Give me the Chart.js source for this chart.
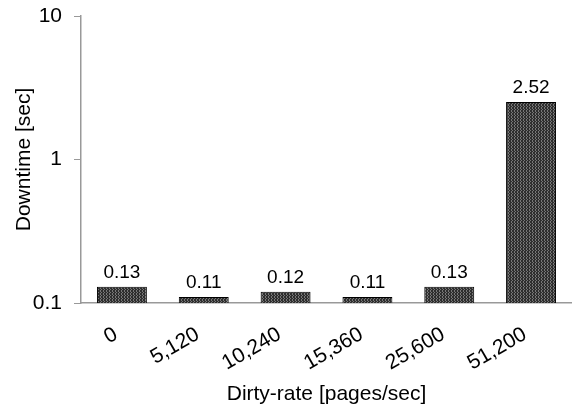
<!DOCTYPE html>
<html>
<head>
<meta charset="utf-8">
<script src="https://cdn.jsdelivr.net/npm/chart.js@4/dist/chart.umd.min.js"></script>
<style>
  html, body { margin: 0; padding: 0; background: #fff; }
  #wrap { width: 572px; height: 407px; }
</style>
</head>
<body>
<div id="wrap"><canvas id="c"></canvas></div>
<script>
// data
const rates = ['0', '5,120', '10,240', '15,360', '25,600', '51,200'];
const downtime = [0.13, 0.11, 0.12, 0.11, 0.13, 2.52];
const yTicks = [0.1, 1, 10];

const FONT = '"Liberation Sans", Arial, sans-serif';

// dark hatch fill like the original bars
function hatch() {
    const p = document.createElement('canvas');
    p.width = 3; p.height = 3;
    const g = p.getContext('2d');
    g.fillStyle = '#2e2e2e';
    g.fillRect(0, 0, 3, 3);
    g.fillStyle = '#777';
    g.fillRect(1, 0, 1, 1);
    g.fillRect(2, 1, 1, 1);
    g.fillRect(1, 2, 1, 1);
    return g.createPattern(p, 'repeat');
}

// value labels above bars
const barLabels = {
    id: 'barLabels',
    afterDatasetsDraw(chart) {
        const ctx = chart.ctx;
        const meta = chart.getDatasetMeta(0);
        ctx.save();
        ctx.font = '19px ' + FONT;
        ctx.fillStyle = '#000';
        ctx.textAlign = 'center';
        ctx.textBaseline = 'alphabetic';
        meta.data.forEach((bar, i) => {
            ctx.fillText(downtime[i].toFixed(2), bar.x, bar.y - 9);
        });
        ctx.restore();
    }
};

new Chart(document.getElementById('c'), {
    type: 'bar',
    data: {
        labels: rates,
        datasets: [{
            data: downtime,
            backgroundColor: hatch(),
            borderColor: '#000',
            borderWidth: 1,
            barPercentage: 0.61,
            categoryPercentage: 1
        }]
    },
    options: {
        responsive: true,
        maintainAspectRatio: false,
        animation: false,
        layout: { padding: 0 },
        plugins: { legend: { display: false }, tooltip: { enabled: false } },
        scales: {
            x: {
                afterFit: s => { s.height = 104; },
                grid: { display: false },
                border: { display: true, color: '#999', width: 1.5 },
                ticks: {
                    color: '#000', font: { family: FONT, size: 21 },
                    minRotation: 30, maxRotation: 30, padding: 11, labelOffset: -6
                },
                title: {
                    display: true, text: 'Dirty-rate [pages/sec]', color: '#000',
                    font: { family: FONT, size: 21 }, padding: { top: 0, bottom: 0 }
                }
            },
            y: {
                type: 'logarithmic',
                min: 0.1,
                max: 10,
                afterFit: s => { s.width = 81; s.paddingTop = 16; s.paddingBottom = 12; },
                afterBuildTicks: s => { s.ticks = yTicks.map(v => ({ value: v })); },
                grid: { drawOnChartArea: false, tickLength: 7, color: '#999' },
                border: { color: '#999', width: 1.5 },
                ticks: {
                    color: '#000', font: { family: FONT, size: 21 }, padding: 12,
                    callback: v => String(v)
                },
                title: {
                    display: true, text: 'Downtime [sec]', color: '#000',
                    font: { family: FONT, size: 21 }, padding: { top: 12, bottom: 0 }
                }
            }
        }
    },
    plugins: [barLabels]
});
</script>
</body>
</html>
